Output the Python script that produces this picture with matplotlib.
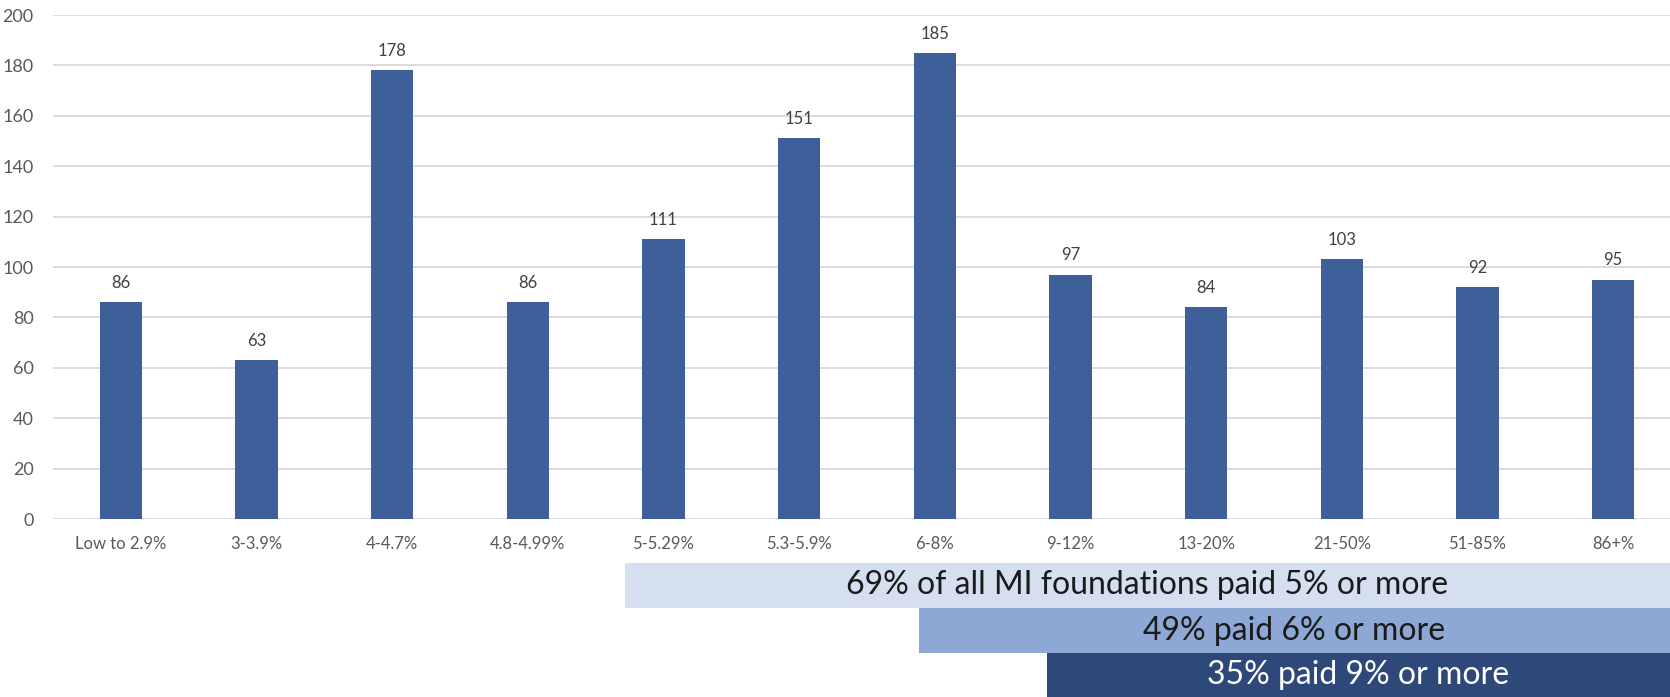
import matplotlib
matplotlib.use("Agg")
import matplotlib.pyplot as plt
from matplotlib.patches import Rectangle

# Payout ranges and foundation counts
categories = ["Low to 2.9%", "3-3.9%", "4-4.7%", "4.8-4.99%", "5-5.29%", "5.3-5.9%",
              "6-8%", "9-12%", "13-20%", "21-50%", "51-85%", "86+%"]
counts = [86, 63, 178, 86, 111, 151, 185, 97, 84, 103, 92, 95]
y_ticks = [0, 20, 40, 60, 80, 100, 120, 140, 160, 180, 200]

# Summary bands under the chart
band_texts = ["69% of all MI foundations paid 5% or more",
              "49% paid 6% or more",
              "35% paid 9% or more"]
band_colors = ["#D6DFEF", "#8EA8D6", "#2F487A"]
band_text_colors = ["#1A1A1A", "#1A1A1A", "#FFFFFF"]
band_left_px = [625, 919, 1047]

W, H = 1670, 697
plt.rcParams["font.family"] = ["Lato", "DejaVu Sans"]

fig = plt.figure(figsize=(W / 100, H / 100), dpi=100)
# axes runs a bit past the right edge, like the original slide crop
ax = fig.add_axes([53 / W, (H - 519) / H, 1628 / W, 504 / H])

x = range(len(categories))
bars = ax.bar(x, counts, width=0.31, color="#3F5F9B", zorder=3)
ax.bar_label(bars, labels=[str(c) for c in counts], padding=8,
             fontsize=12, color="#404040")

ax.set_xlim(-0.5, len(categories) - 0.5)
ax.set_ylim(0, 200)
ax.set_yticks(y_ticks)
ax.set_xticks(list(x))
ax.set_xticklabels(categories)
ax.tick_params(axis="both", length=0, colors="#595959")
ax.tick_params(axis="x", pad=12, labelsize=12)
ax.tick_params(axis="y", pad=14, labelsize=13)
ax.grid(axis="y", color="#D9D9D9", linewidth=1.3, zorder=0)
for s in ax.spines.values():
    s.set_visible(False)

# stacked highlight bands
band_h = 45
top = 563
for i, txt in enumerate(band_texts):
    y0 = H - (top + (i + 1) * band_h)
    left = band_left_px[i]
    fig.add_artist(Rectangle((left / W, y0 / H), (W - left) / W, band_h / H,
                             transform=fig.transFigure, color=band_colors[i], lw=0))
    fig.text((left + W) / 2 / W, (y0 + band_h / 2) / H, txt, ha="center", va="center",
             fontsize=23, color=band_text_colors[i])

fig.savefig("out.png", dpi=100)
